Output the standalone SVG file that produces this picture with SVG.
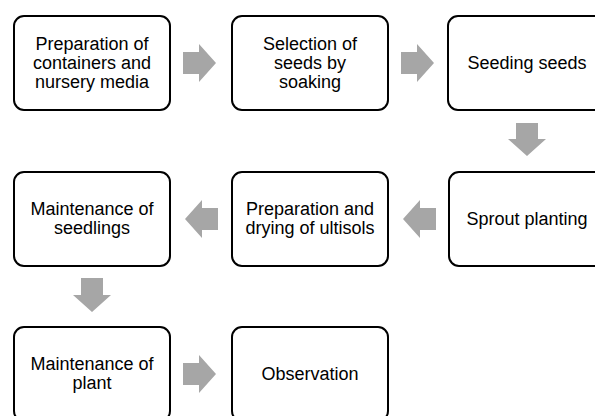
<svg xmlns="http://www.w3.org/2000/svg" width="595" height="416" viewBox="0 0 595 416">
<style>
.box{fill:#fff;stroke:#000;stroke-width:2}
.t{font-family:"Liberation Sans",Arial,sans-serif;font-size:18px;fill:#000;text-anchor:middle}
.arr{fill:#a6a6a6}
</style>
<rect width="595" height="416" fill="#fff"/>
<g id="connectors">
<path class="arr" d="M183,52 H199 V44 L216,63 L199,82 V74 H183 Z"/>
<path class="arr" d="M401,52 H417 V44 L434,63 L417,82 V74 H401 Z"/>
<path class="arr" d="M516,123 H538 V139 H546 L527,156 L508,139 H516 Z"/>
<path class="arr" d="M436,208 H420 V200 L403,219 L420,238 V230 H436 Z"/>
<path class="arr" d="M218,208 H202 V200 L185,219 L202,238 V230 H218 Z"/>
<path class="arr" d="M81,278 H103 V295 H111 L92,312 L73,295 H81 Z"/>
<path class="arr" d="M183,363 H199 V355 L216,374 L199,393 V385 H183 Z"/>
</g>
<g id="n1"><rect class="box" x="14" y="16" width="156" height="94" rx="10"/>
<text class="t" x="92" y="50">Preparation of</text><text class="t" x="92" y="69">containers and</text><text class="t" x="92" y="88">nursery media</text></g>
<g id="n2"><rect class="box" x="232" y="16" width="156" height="94" rx="10"/>
<text class="t" x="310" y="50">Selection of</text><text class="t" x="310" y="69">seeds by</text><text class="t" x="310" y="88">soaking</text></g>
<g id="n3"><rect class="box" x="448" y="16" width="156" height="94" rx="10"/>
<text class="t" x="527" y="69">Seeding seeds</text></g>
<g id="n4"><rect class="box" x="449" y="172" width="156" height="94" rx="10"/>
<text class="t" x="527" y="225">Sprout planting</text></g>
<g id="n5"><rect class="box" x="232" y="172" width="156" height="94" rx="10"/>
<text class="t" x="310" y="215">Preparation and</text><text class="t" x="310" y="234">drying of ultisols</text></g>
<g id="n6"><rect class="box" x="14" y="172" width="156" height="94" rx="10"/>
<text class="t" x="92" y="215">Maintenance of</text><text class="t" x="92" y="234">seedlings</text></g>
<g id="n7"><rect class="box" x="14" y="327" width="156" height="94" rx="10"/>
<text class="t" x="92" y="370">Maintenance of</text><text class="t" x="92" y="389">plant</text></g>
<g id="n8"><rect class="box" x="232" y="327" width="156" height="94" rx="10"/>
<text class="t" x="310" y="380">Observation</text></g>
</svg>
